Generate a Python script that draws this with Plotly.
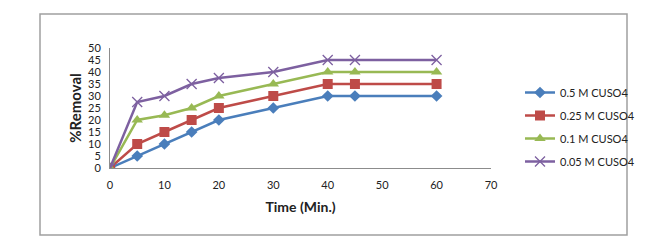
import plotly.graph_objects as go

time_min = [0, 5, 10, 15, 20, 30, 40, 45, 60]
s_05 = [0, 5, 10, 15, 20, 25, 30, 30, 30]
s_025 = [0, 10, 15, 20, 25, 30, 35, 35, 35]
s_01 = [0, 20, 22, 25, 30, 35, 40, 40, 40]
s_005 = [0, 27.5, 30, 35, 37.5, 40, 45, 45, 45]
names = ["0.5 M CUSO4", "0.25 M CUSO4", "0.1 M CUSO4", "0.05 M CUSO4"]
x_ticks = [0, 10, 20, 30, 40, 50, 60, 70]
y_ticks = [0, 5, 10, 15, 20, 25, 30, 35, 40, 45, 50]

colors = ["#4A7EBB", "#BE4B48", "#98B954", "#7D60A0"]
symbols = ["diamond", "square", "triangle-up", "x-thin"]
sizes = [9, 10, 10, 10]

W, H = 671, 252
L, R, T, B = 110, 491, 48, 168

fig = go.Figure()
for i, ys in enumerate([s_05, s_025, s_01, s_005]):
    marker = dict(symbol=symbols[i], size=sizes[i], color=colors[i])
    if symbols[i] == "x-thin":
        marker["line"] = dict(width=1.3, color=colors[i])
    fig.add_trace(go.Scatter(
        x=time_min, y=ys, mode="lines+markers", name=names[i],
        line=dict(color=colors[i], width=2.5), marker=marker,
        legendgroup=f"g{i}",
    ))

def px(xp):
    return (xp - L) / (R - L)

def py(yp):
    return (B - yp) / (B - T)

fig.add_shape(type="rect", xref="paper", yref="paper",
              x0=px(40), x1=px(627), y0=py(235), y1=py(14),
              line=dict(color="#A0A0A0", width=1.5), layer="below")

fig.update_layout(
    width=W, height=H,
    margin=dict(l=L, r=W - R, t=T, b=H - B, pad=0, autoexpand=False),
    paper_bgcolor="white", plot_bgcolor="white",
    font=dict(family="Lato", size=11, color="#222222"),
    showlegend=True,
    legend=dict(x=px(520), y=py(78), xanchor="left", yanchor="top",
                font=dict(size=11, family="Lato", color="#222222"),
                tracegroupgap=4, itemwidth=30, bgcolor="rgba(0,0,0,0)"),
    xaxis=dict(range=[0, 70], tickvals=x_ticks, showgrid=False, zeroline=False,
               showline=True, linecolor="#8C8C8C", linewidth=1, automargin=False,
               ticks="outside", ticklen=7, tickcolor="rgba(0,0,0,0)",
               tickfont=dict(size=11, family="Lato"),
               title=dict(text="<b>Time (Min.)</b>", font=dict(size=14, family="Lato"), standoff=11)),
    yaxis=dict(range=[0, 50], tickvals=y_ticks, showgrid=False, zeroline=False,
               showline=True, linecolor="#8C8C8C", linewidth=1, automargin=False,
               ticks="outside", ticklen=6, tickcolor="rgba(0,0,0,0)",
               tickfont=dict(size=11, family="Lato"),
               title=dict(text="<b>%Removal</b>", font=dict(size=15, family="Lato"), standoff=2)),
)

fig.write_html("out.html", post_script="document.body.style.margin='0';",
               config={"displayModeBar": False})
